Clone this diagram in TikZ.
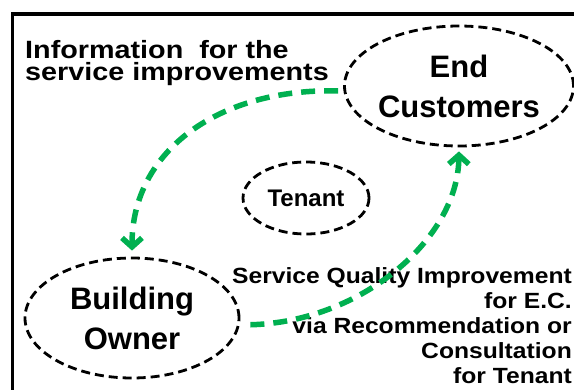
\documentclass[tikz,border=0pt]{standalone}
\usepackage{fontspec}
\setmainfont{Liberation Sans}
\newfontfamily\widefont[FakeStretch=1.15]{Liberation Sans}
\newfontfamily\widerfont[FakeStretch=1.12]{Liberation Sans}
\usetikzlibrary{shapes.geometric,arrows.meta}
\definecolor{flowgreen}{HTML}{00B050}

\begin{document}
\begin{tikzpicture}[x=1pt, y=-1pt,
    party/.style={ellipse, draw=black, line width=2.8pt, dash pattern=on 9pt off 5pt, inner sep=0pt, align=center, font=\bfseries\fontsize{31}{40}\selectfont},
    flow/.style={draw=flowgreen, line width=5.5pt, dash pattern=on 14pt off 9pt, -{Straight Barb[length=9pt,width=20pt]}}]
    \useasboundingbox (0,0) rectangle (574,389);
    \clip (0,0) rectangle (574,389);

    % outer frame
    \draw[line width=3.5pt] (12.5,14) rectangle (620,430);

    \node[party, minimum width=210pt, minimum height=120pt] (cust) at (459,86) {End\\Customers};
    \node[party, minimum width=214pt, minimum height=120pt] (owner) at (132,318) {Building\\Owner};
    \node[party, minimum width=126pt, minimum height=72pt, font=\bfseries\fontsize{24}{28}\selectfont] (tenant) at (306,198) {Tenant};

    \node[anchor=north west, inner sep=0pt, align=left, font=\widefont\bfseries\fontsize{25}{22.5}\selectfont] (info) at (25,40) {Information\ \ for the\\service improvements};
    \node[anchor=north east, inner sep=0pt, align=right, font=\widerfont\bfseries\fontsize{22}{25}\selectfont] (gain) at (572,267) {Service Quality Improvement\\for E.C.\\via Recommendation or\\Consultation\\for Tenant};

    \draw[flow, shorten <=5pt, shorten >=6pt] ([yshift=-5pt]cust.west) .. controls (220,88) and (132,150) .. (owner.north);
    \draw[flow, shorten <=10pt, shorten >=4pt] ([yshift=-7pt]owner.east) .. controls (360,322) and (458,240) .. (cust.south);
\end{tikzpicture}
\end{document}
